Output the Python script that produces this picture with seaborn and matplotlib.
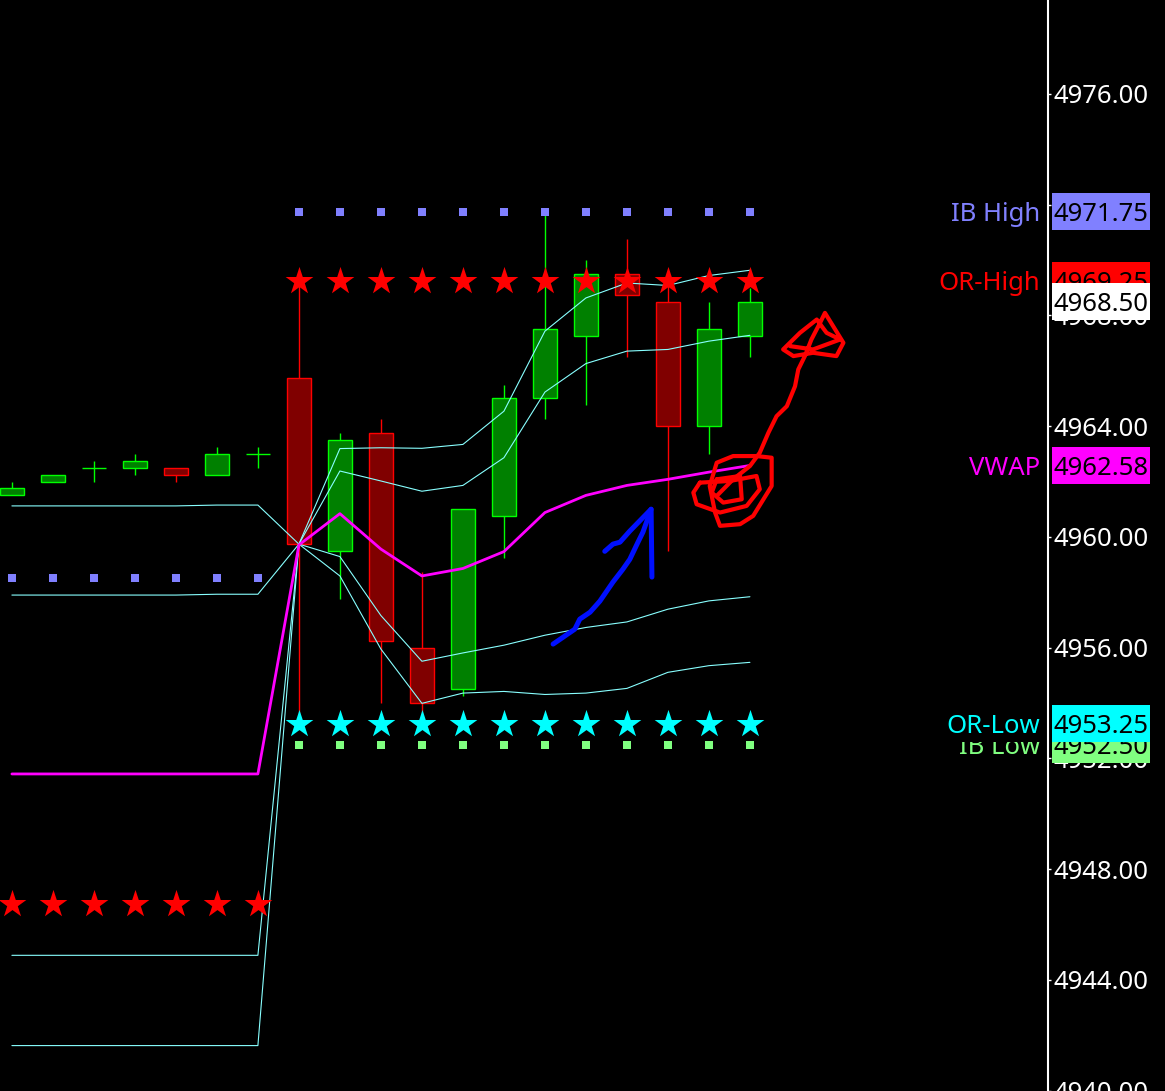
import matplotlib
matplotlib.use("Agg")
import matplotlib.pyplot as plt
import matplotlib.patches as mpatches
import numpy as np
import pandas as pd
import seaborn as sns

# --- candle data (one bar per slot) ---
bars = [0, 1, 2, 3, 4, 5, 6, 7, 8, 9, 10, 11, 12, 13, 14, 15, 16, 17, 18]
opens = [4961.50, 4962.00, 4962.50, 4962.50, 4962.50, 4962.25, 4963.00,
         4965.75, 4959.50, 4963.75, 4956.00, 4954.50, 4960.75, 4965.00,
         4967.25, 4969.50, 4968.50, 4964.00, 4967.25]
highs = [4962.00, 4962.25, 4962.75, 4963.00, 4962.50, 4963.25, 4963.25,
         4969.25, 4963.75, 4964.25, 4958.75, 4961.00, 4965.50, 4971.75,
         4970.00, 4970.75, 4969.25, 4968.50, 4969.00]
lows = [4961.50, 4962.00, 4962.00, 4962.25, 4962.00, 4962.25, 4962.50,
        4953.25, 4957.75, 4954.00, 4953.50, 4954.25, 4959.25, 4964.25,
        4964.75, 4966.50, 4959.50, 4963.00, 4966.50]
closes = [4961.75, 4962.25, 4962.50, 4962.75, 4962.25, 4963.00, 4963.00,
          4959.75, 4963.50, 4956.25, 4954.00, 4961.00, 4965.00, 4967.50,
          4969.50, 4968.75, 4964.00, 4967.50, 4968.50]

# --- vwap and bands ---
vwap = [4951.44, 4951.44, 4951.44, 4951.44, 4951.44, 4951.44, 4951.44,
        4959.71, 4960.84, 4959.56, 4958.59, 4958.86, 4959.47, 4960.88,
        4961.50, 4961.86, 4962.08, 4962.34, 4962.58]
band_up2 = [4961.12, 4961.12, 4961.12, 4961.12, 4961.12, 4961.15, 4961.15,
            4959.74, 4963.19, 4963.22, 4963.20, 4963.34, 4964.54, 4967.43,
            4968.63, 4969.17, 4969.08, 4969.44, 4969.63]
band_up1 = [4957.90, 4957.90, 4957.90, 4957.90, 4957.90, 4957.93, 4957.93,
            4959.74, 4962.38, 4962.02, 4961.65, 4961.86, 4962.86, 4965.23,
            4966.26, 4966.71, 4966.77, 4967.07, 4967.28]
band_dn1 = [4944.89, 4944.89, 4944.89, 4944.89, 4944.89, 4944.89, 4944.89,
            4959.74, 4959.29, 4957.16, 4955.51, 4955.81, 4956.09, 4956.45,
            4956.73, 4956.93, 4957.39, 4957.69, 4957.84]
band_dn2 = [4941.63, 4941.63, 4941.63, 4941.63, 4941.63, 4941.63, 4941.63,
            4959.74, 4958.59, 4955.95, 4953.99, 4954.36, 4954.42, 4954.31,
            4954.36, 4954.53, 4955.11, 4955.35, 4955.47]

# --- session levels drawn as markers ---
ib_high = [4958.50, 4958.50, 4958.50, 4958.50, 4958.50, 4958.50, 4958.50,
           4971.75, 4971.75, 4971.75, 4971.75, 4971.75, 4971.75, 4971.75,
           4971.75, 4971.75, 4971.75, 4971.75, 4971.75]
or_high = [4946.75, 4946.75, 4946.75, 4946.75, 4946.75, 4946.75, 4946.75,
           4969.25, 4969.25, 4969.25, 4969.25, 4969.25, 4969.25, 4969.25,
           4969.25, 4969.25, 4969.25, 4969.25, 4969.25]
session_bars = [7, 8, 9, 10, 11, 12, 13, 14, 15, 16, 17, 18]
or_low = [4953.25] * 12
ib_low = [4952.50] * 12

# --- price tags on the axis ---
tick_prices = [4940, 4944, 4948, 4952, 4956, 4960, 4964, 4968, 4972, 4976]
tag_names = ["IB High", "OR-High", "VWAP", "IB Low", "OR-Low"]
tag_values = [4971.75, 4969.25, 4962.58, 4952.50, 4953.25]
tag_colors = ["#8080ff", "#ff0000", "#ff00ff", "#80ff80", "#00ffff"]
last_price = 4968.50

# --- hand drawn marks (bar index, price) ---
blue_x = [13.20, 13.73, 13.85, 14.10, 14.34, 14.66, 14.90, 15.07, 15.27, 15.39, 15.59]
blue_y = [4956.13, 4956.67, 4957.03, 4957.28, 4957.68, 4958.37, 4958.83,
          4959.19, 4959.81, 4960.17, 4961.00]
blue_head_x = [14.46, 14.66, 14.83, 15.07, 15.59, 15.61]
blue_head_y = [4959.48, 4959.74, 4959.81, 4960.21, 4961.00, 4958.55]
red_loop_a_x = [18.16, 18.53, 18.53, 18.33, 18.08, 17.76, 17.27, 17.15, 17.02, 17.19, 17.59, 18.16]
red_loop_a_y = [4962.92, 4962.86, 4961.84, 4961.36, 4960.76, 4960.46, 4960.40,
                4960.88, 4961.84, 4962.68, 4962.92, 4962.92]
red_loop_b_x = [16.78, 17.51, 18.16, 18.24, 17.92, 17.27, 16.70, 16.62, 16.78]
red_loop_b_y = [4961.96, 4962.02, 4962.20, 4961.72, 4961.12, 4960.88, 4961.18, 4961.60, 4961.96]
red_loop_c_x = [17.19, 17.76, 17.80, 17.35, 17.07, 17.19]
red_loop_c_y = [4962.08, 4962.20, 4961.36, 4961.24, 4961.60, 4962.08]
red_stem_x = [17.19, 17.59, 18.00, 18.24, 18.45, 18.65, 18.90, 19.10, 19.18, 19.34,
              19.50, 19.71, 19.83, 20.03, 20.28, 20.11, 19.54, 19.06, 18.81, 19.22,
              19.63, 19.87, 20.20, 19.54, 18.98]
red_stem_y = [4961.48, 4962.08, 4962.56, 4963.04, 4963.76, 4964.36, 4964.72, 4965.44,
              4966.05, 4966.53, 4967.13, 4967.73, 4968.09, 4967.61, 4967.01, 4966.53,
              4966.65, 4966.53, 4966.77, 4967.37, 4967.85, 4967.37, 4967.13, 4966.77,
              4966.89]

sns.set_style("dark")
plt.rcParams['font.family'] = ['Noto Sans', 'DejaVu Sans']

fig = plt.figure(figsize=(11.65, 10.91), dpi=100, facecolor='black')
ax = fig.add_axes([0, 0, 1048 / 1165, 1])
ax.set_facecolor('black')
ax.grid(False)

# candles
df = pd.DataFrame({"bar": bars, "o": opens, "h": highs, "l": lows, "c": closes})
up = df["c"] >= df["o"]
edge = np.where(up, "#00ff00", "#ff0000")
fill = np.where(up, "#008000", "#800000")
ax.vlines(df["bar"], df["l"], df["h"], colors=edge, linewidth=1.0, zorder=2)
ax.bar(df["bar"], df["c"] - df["o"], bottom=df["o"], width=0.6,
       color=fill, edgecolor=edge, linewidth=1.0, zorder=3)

# bands and vwap
for band in [band_up2, band_up1, band_dn1, band_dn2]:
    sns.lineplot(x=bars, y=band, ax=ax, color="#88ffff", linewidth=0.8, zorder=4)
sns.lineplot(x=bars, y=vwap, ax=ax, color="#ff00ff", linewidth=2.0, zorder=4.5)

# level markers
sns.scatterplot(x=bars, y=ib_high, ax=ax, marker="s", s=33, color="#8080ff",
                linewidth=0, zorder=5)
sns.scatterplot(x=session_bars, y=ib_low, ax=ax, marker="s", s=33, color="#80ff80",
                linewidth=0, zorder=5)
sns.scatterplot(x=bars, y=or_high, ax=ax, marker="*", s=441, color="#ff0000",
                linewidth=0, zorder=5)
sns.scatterplot(x=session_bars, y=or_low, ax=ax, marker="*", s=441, color="#00ffff",
                linewidth=0, zorder=5)

# scribbles
sns.lineplot(x=blue_x, y=blue_y, ax=ax, sort=False, estimator=None,
             color="#0010ff", linewidth=3.6, zorder=8)
sns.lineplot(x=blue_head_x, y=blue_head_y, ax=ax, sort=False, estimator=None,
             color="#0010ff", linewidth=3.6, zorder=8)
for sx, sy in [(red_loop_a_x, red_loop_a_y), (red_loop_b_x, red_loop_b_y),
               (red_loop_c_x, red_loop_c_y), (red_stem_x, red_stem_y)]:
    sns.lineplot(x=sx, y=sy, ax=ax, sort=False, estimator=None,
                 color="#ff0000", linewidth=3.0, zorder=8)

ax.set_xlim(-0.29, 25.27)
ax.set_ylim(4939.99, 4979.39)
ax.set_xlabel("")
ax.set_ylabel("")
ax.set_xticks([])

# price axis on the right
ax.yaxis.tick_right()
ax.set_yticks(tick_prices)
ax.set_yticklabels([f"{p:.2f}" for p in tick_prices])
ax.tick_params(axis="y", colors="white", labelsize=18.5, length=2.5, width=1,
               pad=1.5, direction="out")
for side in ["top", "left", "bottom"]:
    ax.spines[side].set_visible(False)
ax.spines["right"].set_color("white")
ax.spines["right"].set_linewidth(1.5)

trans = ax.get_yaxis_transform()
half_h = 18.5 / (1091 / (4979.39 - 4939.99))
box_x0 = 1052 / 1048
box_w = 98 / 1048


def price_tag(price, text, fc, z):
    ax.add_patch(mpatches.Rectangle((box_x0, price - half_h), box_w, 2 * half_h,
                                    transform=trans, facecolor=fc, edgecolor="none",
                                    clip_on=False, zorder=z))
    ax.text(1053 / 1048, price, text, transform=trans, ha="left", va="center_baseline",
            color="black", fontsize=18.5, clip_on=False, zorder=z + 0.1)


for name, val, col in zip(tag_names, tag_values, tag_colors):
    z = 7 if name == "OR-Low" else 6
    ax.text(1040 / 1048, val, name, transform=trans, ha="right", va="center_baseline",
            color=col, fontsize=18.5, zorder=z + 0.1,
            bbox=dict(boxstyle="square,pad=0.12", facecolor="black", edgecolor="none"))
    price_tag(val, f"{val:.2f}", col, z)

price_tag(last_price, f"{last_price:.2f}", "#ffffff", 7)

fig.savefig("out.png", dpi=100, facecolor="black")
